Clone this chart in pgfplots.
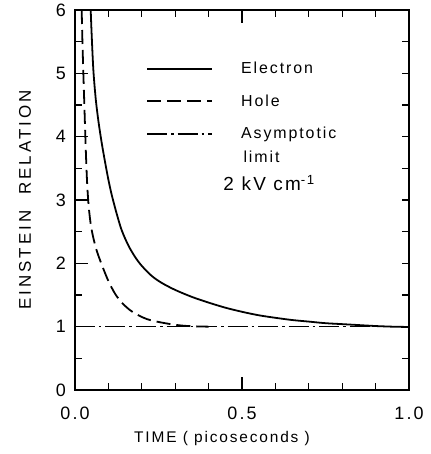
\documentclass[border=0pt]{standalone}
\usepackage{fontspec}
\setmainfont{Liberation Sans}[LetterSpace=12]
\usepackage{pgfplots}
\usepackage{pgfplotstable}
\pgfplotsset{compat=1.18}

% time (ps) vs Einstein relation
\pgfplotstableread{
t     er
0.047 6.00
0.050 5.60
0.055 5.05
0.062 4.60
0.070 4.25
0.080 3.90
0.090 3.60
0.100 3.32
0.110 3.08
0.125 2.78
0.140 2.52
0.160 2.28
0.180 2.10
0.200 1.96
0.230 1.80
0.260 1.69
0.300 1.58
0.350 1.47
0.400 1.38
0.450 1.30
0.500 1.235
0.550 1.18
0.600 1.14
0.650 1.105
0.700 1.08
0.750 1.055
0.800 1.04
0.850 1.025
0.900 1.01
0.950 1.00
1.000 0.995
}\electron

\pgfplotstableread{
t     er
0.020 6.00
0.022 5.55
0.025 5.00
0.028 4.50
0.031 4.00
0.034 3.55
0.037 3.20
0.041 2.90
0.047 2.62
0.055 2.40
0.065 2.20
0.080 1.98
0.100 1.72
0.120 1.52
0.140 1.38
0.165 1.26
0.190 1.18
0.215 1.12
0.245 1.08
0.275 1.05
0.300 1.03
0.325 1.015
0.360 1.005
0.400 1.00
}\hole

\begin{document}
\begin{tikzpicture}
\path[use as bounding box] (-75bp,-64bp) rectangle (356bp,390bp);
\begin{axis}[
  scale only axis, width=334bp, height=380bp,
  xmin=0, xmax=1, ymin=0, ymax=6,
  axis line style={line width=1.3pt},
  xtick={0,0.5,1}, xticklabels={0.0,0.5,1.0},
  minor xtick={0.1,0.2,0.3,0.4,0.6,0.7,0.8,0.9},
  ytick={0,1,2,3,4,5,6},
  minor ytick={0.5,1.5,2.5,3.5,4.5,5.5},
  ytick pos=left,
  tick align=inside,
  major tick length=13bp, minor tick length=7bp,
  every tick/.style={black, line width=1.1pt},
  tick label style={font=\fontsize{18}{18}\selectfont},
  xticklabel style={anchor=base, yshift=-29.5bp},
  yticklabel style={anchor=east, inner xsep=0pt, xshift=-9bp},
  /pgf/number format/assume math mode=true,
  xlabel={TIME ( picoseconds )},
  ylabel={EINSTEIN\ \ RELATION},
  xlabel style={at={(axis description cs:0.44,0)}, anchor=base, yshift=-52bp,
    font=\fontsize{15.5}{15.5}\selectfont},
  ylabel style={at={(axis description cs:-0.1497,0.5)}, anchor=center, rotate=0,
    font=\fontsize{17}{17}\selectfont\addfontfeature{LetterSpace=18}},
  legend cell align=left,
  legend image code/.code={\draw[#1] (0bp,0bp) -- (65bp,0bp);},
  legend style={draw=none, fill=none, at={(axis cs:0.204,5.24)}, anchor=north west,
    font=\fontsize{16}{16}\selectfont, row sep=15.5bp, column sep=28bp,
    nodes={inner xsep=0pt}},
]
\addplot[black, line width=1.8pt, smooth] table[x=t, y=er] {\electron};
\addlegendentry{Electron}
\addplot[black, line width=1.8pt, smooth, dash pattern=on 14bp off 6bp] table[x=t, y=er] {\hole};
\addlegendentry{Hole}
\addplot[black, line width=1.5pt, dash pattern=on 20bp off 4bp on 2.5bp off 4bp] coordinates {(0,1) (1,1)};
\addlegendentry{Asymptotic}
\node[anchor=west, font=\fontsize{16}{16}\selectfont] at (axis cs:0.494,3.68) {limit};
\node[anchor=west, font=\fontsize{19}{19}\selectfont] at (axis cs:0.434,3.27) {2 kV cm\textsuperscript{-1}};
\end{axis}
\begin{axis}[
  scale only axis, width=334bp, height=380bp,
  xmin=0, xmax=1, ymin=0, ymax=6,
  axis line style={line width=1.3pt},
  xtick=\empty,
  ytick={0,0.5,...,6}, yticklabels={},
  ytick pos=right, tick align=inside,
  major tick length=7bp,
  every tick/.style={black, line width=1.1pt},
]
\end{axis}
\end{tikzpicture}
\end{document}
